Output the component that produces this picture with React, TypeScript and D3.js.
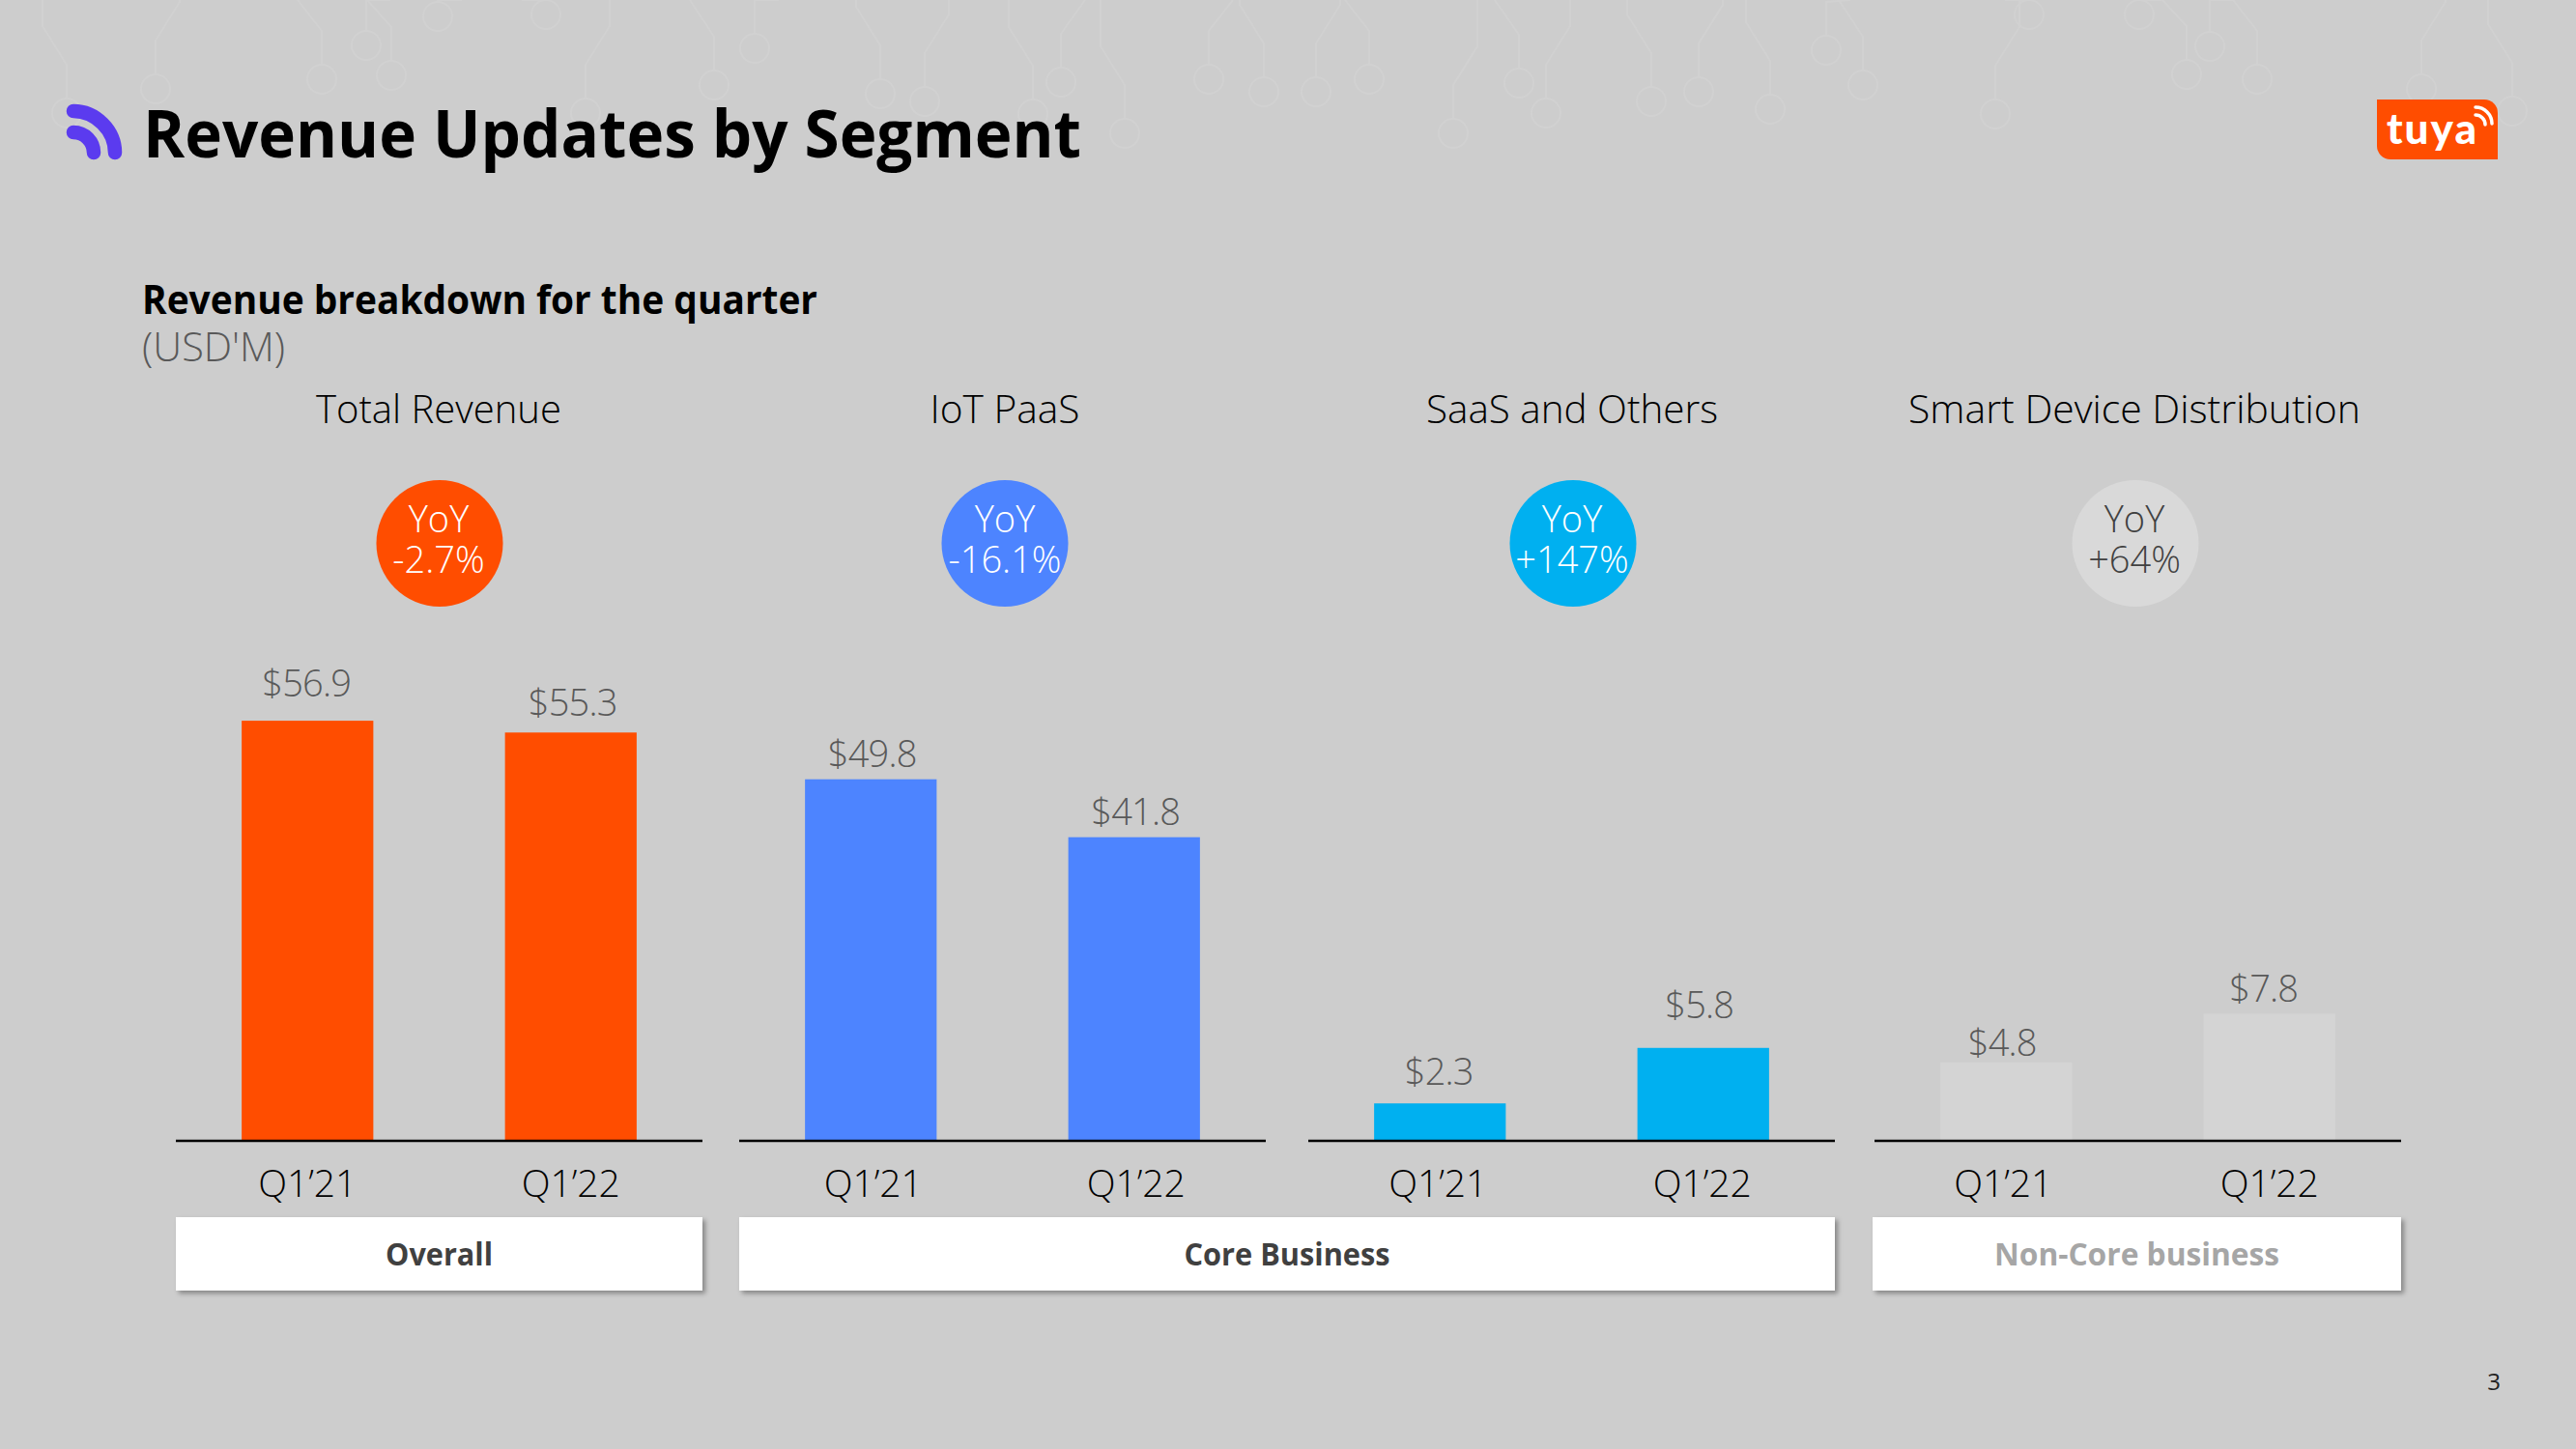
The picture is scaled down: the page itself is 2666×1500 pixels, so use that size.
import React from "react";
import * as d3 from "d3";

const WIDTH = 2666;
const HEIGHT = 1500;
const FONT = "'Open Sans', 'Noto Sans', sans-serif";

const titles = ["Total Revenue", "IoT PaaS", "SaaS and Others", "Smart Device Distribution"];
const periods = ["Q1\u201921", "Q1\u201922"];
const q121 = [56.9, 49.8, 2.3, 4.8];
const q122 = [55.3, 41.8, 5.8, 7.8];
const yoyLabels = ["-2.7%", "-16.1%", "+147%", "+64%"];
const groups = ["Overall", "Core Business", "Non-Core business"];

const barColors = ["#FF4D00", "#4D84FF", "#00B0F0", "#D4D4D4"];
const circleColors = ["#FF4D00", "#4D84FF", "#00B0F0", "#D9D9D9"];
const yoyTextColors = ["#FFFFFF", "#FFFFFF", "#FFFFFF", "#404040"];
const axisMax = [57.7, 58.7, 26.8, 26.3];

const panelLeft = [182, 765, 1354, 1940];
const panelWidth = 545;
const titleCenter = [454, 1040, 1627, 2209];
const circleDx = [1, 0, 1, 1];
const labelDx = [[-1, 2], [1.5, 1.5], [-1, -4], [-4, -6]];
const labelGap = [[25, 17.5], [12.5, 12.5], [19, 30.5], [6.5, 12.5]];
const tickDx = [[0, 0], [2.5, 2], [-2, -1], [-3, 0]];
const titleWidth = [254, 155, 302, 468];
const groupBox = [[182, 727], [765, 1899], [1938, 2485]];
const groupText = ["#404040", "#404040", "#A6A6A6"];
const groupWidth = [111, 213, 295];

const BASE = 1180;
const TOP = 740;

const nodes: [number, number][] = [
  [69, 117], [161, 92], [333, 82], [379, 47], [405, 78], [453, 17], [565, 15], [606, 117], [739, 88], [781, 50],
  [911, 97], [957, 105], [1069, 118], [1098, 85], [1164, 138], [1251, 82], [1308, 95], [1362, 95], [1417, 82],
  [1504, 138], [1572, 86], [1600, 117], [1709, 105], [1758, 95], [1832, 113], [1890, 52], [1928, 88], [2065, 118],
  [2100, 15], [2214, 15], [2263, 77], [2287, 48], [2336, 82], [2506, 92], [2600, 115],
];

const light = { fontFamily: FONT, fontWeight: 300 } as const;

function Panel({ i }: { i: number }) {
  const values = [q121[i], q122[i]];
  const x = d3.scaleBand<string>().domain(periods).range([panelLeft[i], panelLeft[i] + panelWidth]).paddingInner(0.5).paddingOuter(0.25);
  const y = d3.scaleLinear().domain([0, axisMax[i]]).range([BASE, TOP]);
  const cx = titleCenter[i];
  return (
    <g>
      <text x={cx} y={438} textAnchor="middle" fontSize={41} fill="#000" textLength={titleWidth[i]} lengthAdjust="spacingAndGlyphs" {...light}>{titles[i]}</text>
      <circle cx={cx + circleDx[i]} cy={562.5} r={65.5} fill={circleColors[i]} />
      <text x={cx} y={550.5} textAnchor="middle" fontSize={38} fill={yoyTextColors[i]} {...light}>YoY</text>
      <text x={cx} y={592.5} textAnchor="middle" fontSize={38} fill={yoyTextColors[i]} {...light}>{yoyLabels[i]}</text>
      {periods.map((p, k) => (
        <g key={p}>
          <rect x={x(p)} y={y(values[k])} width={x.bandwidth()} height={BASE - y(values[k])} fill={barColors[i]} />
          <text x={x(p)! + x.bandwidth() / 2 + labelDx[i][k]} y={y(values[k]) - labelGap[i][k]} textAnchor="middle" fontSize={38} letterSpacing={-0.8} fill="#595959" {...light}>
            ${values[k].toFixed(1)}
          </text>
          <text x={x(p)! + x.bandwidth() / 2 + tickDx[i][k]} y={1238.5} textAnchor="middle" fontSize={39} fill="#000" {...light}>{p}</text>
        </g>
      ))}
      <line x1={panelLeft[i]} x2={panelLeft[i] + panelWidth} y1={1181} y2={1181} stroke="#000" strokeWidth={2.5} />
    </g>
  );
}

export default function App() {
  return (
    <svg width={WIDTH} height={HEIGHT} viewBox={`0 0 ${WIDTH} ${HEIGHT}`} style={{ position: "absolute", left: 0, top: 0, display: "block" }}>
      <defs>
        <filter id="boxShadow" x="-5%" y="-20%" width="110%" height="150%">
          <feDropShadow dx={3} dy={3} stdDeviation={2.5} floodColor="#000" floodOpacity={0.35} />
        </filter>
      </defs>
      <rect width={WIDTH} height={HEIGHT} fill="#CDCDCD" />
      <g fill="none" stroke="#D1D1D1" strokeWidth={2}>
        {nodes.map(([nx, ny], i) => (
          <g key={i}>
            <circle cx={nx} cy={ny} r={15} />
            <path d={`M${nx},${ny - 15}V${Math.max(ny - 50, 0)}L${nx + (i % 2 ? 25 : -25)},${Math.max(ny - 90, 0)}V0`} />
          </g>
        ))}
      </g>

      <g fill="none" stroke="#5B3BEF" strokeWidth={14.5} strokeLinecap="round">
        <path d="M76,115 C99,115 119,135 119,158" />
        <path d="M76,137 C88,137 97,147 97,158" />
      </g>
      <text x={148} y={163} fontSize={68} fontWeight={700} fontFamily={FONT} fill="#000" textLength={971} lengthAdjust="spacingAndGlyphs">Revenue Updates by Segment</text>
      <text x={147} y={324.5} fontSize={41} fontWeight={700} fontFamily={FONT} fill="#000" textLength={699} lengthAdjust="spacingAndGlyphs">Revenue breakdown for the quarter</text>
      <text x={147} y={374} fontSize={41.5} fill="#595959" {...light}>(USD'M)</text>

      <path d="M2460,103H2571a14,14 0 0 1 14,14V165H2474a14,14 0 0 1 -14,-14Z" fill="#FF4D00" />
      <text x={2470} y={149} fontSize={44} fontWeight={900} fontFamily="Lato, sans-serif" fill="#fff" letterSpacing={2}>tuya</text>
      <g fill="none" stroke="#fff" strokeWidth={3.5} strokeLinecap="round">
        <path d="M2562,119a10,10 0 0 1 10,10" />
        <path d="M2562,111a17,17 0 0 1 17,17" />
      </g>

      {titles.map((_, i) => <Panel key={i} i={i} />)}

      {groups.map((g, i) => (
        <g key={g}>
          <rect x={groupBox[i][0]} y={1260} width={groupBox[i][1] - groupBox[i][0]} height={76} fill="#fff" filter="url(#boxShadow)" />
          <text x={(groupBox[i][0] + groupBox[i][1]) / 2} y={1310} textAnchor="middle" fontSize={33} fontWeight={700} fontFamily={FONT} fill={groupText[i]} textLength={groupWidth[i]} lengthAdjust="spacingAndGlyphs">{g}</text>
        </g>
      ))}
      <text x={2581} y={1439} textAnchor="middle" fontSize={24} fontWeight={400} fontFamily={FONT} fill="#222">3</text>
    </svg>
  );
}
